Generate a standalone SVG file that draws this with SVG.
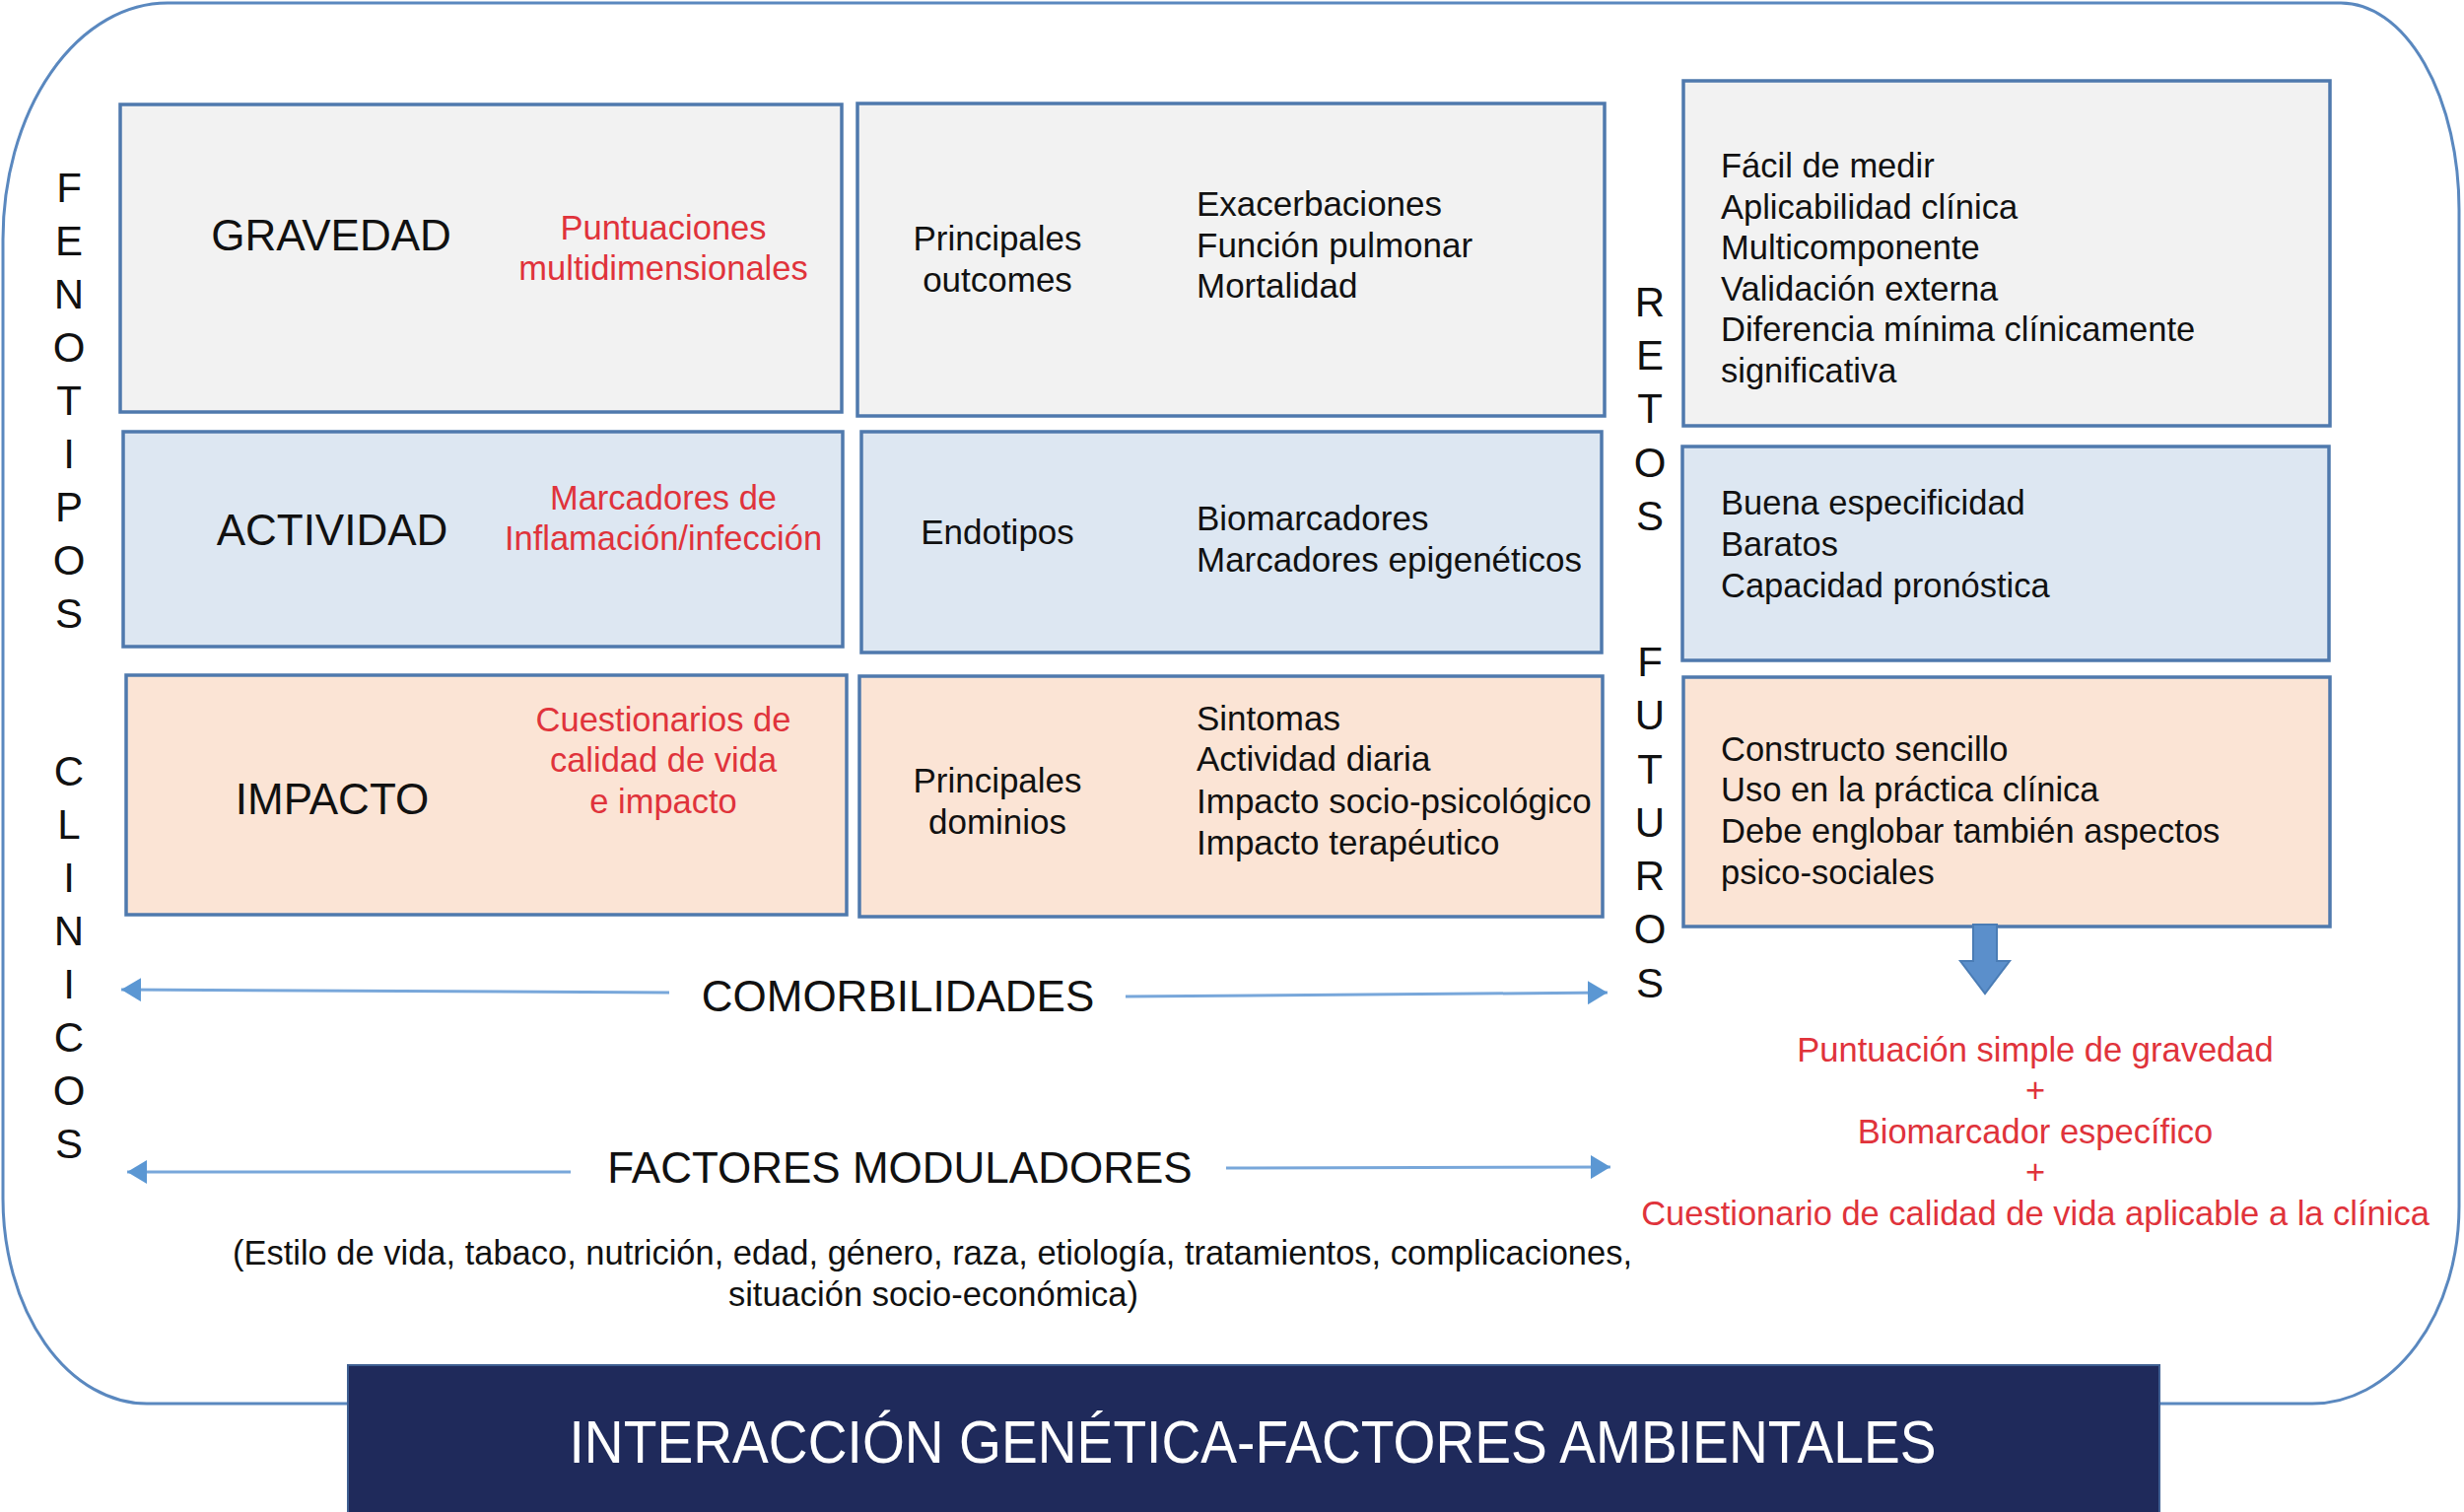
<svg xmlns="http://www.w3.org/2000/svg" width="2500" height="1534" viewBox="0 0 2500 1534">
<style>
text{font-family:"Liberation Sans",Arial,Helvetica,sans-serif;fill:#111}
.box{stroke:#4f79ad;stroke-width:3.5}
.g{fill:#f2f2f2}.b{fill:#dde7f2}.p{fill:#fbe4d5}
.h{font-size:44px;text-anchor:middle}
.r{font-size:34.5px;fill:#e0333b;text-anchor:middle}
.t{font-size:35px}
.c{text-anchor:middle}
.s{font-size:34.5px}
.v{font-size:42px;text-anchor:middle}
.ln{stroke:#78a7da;stroke-width:3;fill:none}
</style>
<defs>
<marker id="ah" markerUnits="userSpaceOnUse" markerWidth="22" markerHeight="24" refX="20" refY="12" orient="auto">
<path d="M0,0 L20,12 L0,24 Z" fill="#5b97d3"/>
</marker>
</defs>
<rect width="2500" height="1534" fill="#ffffff"/>
<g id="frame">
<path d="M170,3 H2375 A120,210 0 0 1 2495,213 V1224 A149,200 0 0 1 2346,1424 H149 A146,208 0 0 1 3,1216 V243 A167,240 0 0 1 170,3 Z" fill="none" stroke="#5a88bf" stroke-width="3"/>
</g>
<g id="label-fenotipos">
<text class="v" x="70" y="205">F</text>
<text class="v" x="70" y="259">E</text>
<text class="v" x="70" y="313">N</text>
<text class="v" x="70" y="367">O</text>
<text class="v" x="70" y="421">T</text>
<text class="v" x="70" y="475">I</text>
<text class="v" x="70" y="529">P</text>
<text class="v" x="70" y="583">O</text>
<text class="v" x="70" y="637">S</text>
<text class="v" x="70" y="797">C</text>
<text class="v" x="70" y="851">L</text>
<text class="v" x="70" y="905">I</text>
<text class="v" x="70" y="959">N</text>
<text class="v" x="70" y="1013">I</text>
<text class="v" x="70" y="1067">C</text>
<text class="v" x="70" y="1121">O</text>
<text class="v" x="70" y="1175">S</text>
</g>
<g id="label-retos">
<text class="v" x="1674" y="321">R</text>
<text class="v" x="1674" y="375">E</text>
<text class="v" x="1674" y="429">T</text>
<text class="v" x="1674" y="484">O</text>
<text class="v" x="1674" y="538">S</text>
<text class="v" x="1674" y="686">F</text>
<text class="v" x="1674" y="740">U</text>
<text class="v" x="1674" y="795">T</text>
<text class="v" x="1674" y="849">U</text>
<text class="v" x="1674" y="903">R</text>
<text class="v" x="1674" y="957">O</text>
<text class="v" x="1674" y="1012">S</text>
</g>
<g id="gravedad">
<rect class="box g" x="122" y="106" width="732" height="312"/>
<text class="h" x="336" y="254">GRAVEDAD</text>
<text class="r" x="673" y="243">Puntuaciones</text>
<text class="r" x="673" y="284">multidimensionales</text>
</g>
<g id="actividad">
<rect class="box b" x="125" y="438" width="730" height="218"/>
<text class="h" x="337" y="553">ACTIVIDAD</text>
<text class="r" x="673" y="517">Marcadores de</text>
<text class="r" x="673" y="558">Inflamación/infección</text>
</g>
<g id="impacto">
<rect class="box p" x="128" y="685" width="731" height="243"/>
<text class="h" x="337" y="826">IMPACTO</text>
<text class="r" x="673" y="742">Cuestionarios de</text>
<text class="r" x="673" y="783">calidad de vida</text>
<text class="r" x="673" y="825">e impacto</text>
</g>
<g id="outcomes">
<rect class="box g" x="870" y="105" width="758" height="317"/>
<text class="t c" x="1012" y="254">Principales</text>
<text class="t c" x="1012" y="296">outcomes</text>
<text class="t" x="1214" y="219">Exacerbaciones</text>
<text class="t" x="1214" y="261">Función pulmonar</text>
<text class="t" x="1214" y="302">Mortalidad</text>
</g>
<g id="endotipos">
<rect class="box b" x="874" y="438" width="751" height="224"/>
<text class="t c" x="1012" y="552">Endotipos</text>
<text class="t" x="1214" y="538">Biomarcadores</text>
<text class="t" x="1214" y="580">Marcadores epigenéticos</text>
</g>
<g id="dominios">
<rect class="box p" x="872" y="686" width="754" height="244"/>
<text class="t c" x="1012" y="804">Principales</text>
<text class="t c" x="1012" y="846">dominios</text>
<text class="t" x="1214" y="741">Sintomas</text>
<text class="t" x="1214" y="782">Actividad diaria</text>
<text class="t" x="1214" y="825">Impacto socio-psicológico</text>
<text class="t" x="1214" y="867">Impacto terapéutico</text>
</g>
<g id="retos-gravedad">
<rect class="box g" x="1708" y="82" width="656" height="350"/>
<text class="s" x="1746" y="180">Fácil de medir</text>
<text class="s" x="1746" y="221.5">Aplicabilidad clínica</text>
<text class="s" x="1746" y="263">Multicomponente</text>
<text class="s" x="1746" y="304.5">Validación externa</text>
<text class="s" x="1746" y="346">Diferencia mínima clínicamente</text>
<text class="s" x="1746" y="387.5">significativa</text>
</g>
<g id="retos-actividad">
<rect class="box b" x="1707" y="453" width="656" height="217"/>
<text class="s" x="1746" y="522">Buena especificidad</text>
<text class="s" x="1746" y="564">Baratos</text>
<text class="s" x="1746" y="606">Capacidad pronóstica</text>
</g>
<g id="retos-impacto">
<rect class="box p" x="1708" y="687" width="656" height="253"/>
<text class="s" x="1746" y="772">Constructo sencillo</text>
<text class="s" x="1746" y="813">Uso en la práctica clínica</text>
<text class="s" x="1746" y="855">Debe englobar también aspectos</text>
<text class="s" x="1746" y="897">psico-sociales</text>
</g>
<g id="comorbilidades">
<text class="h" x="911" y="1026">COMORBILIDADES</text>
</g>
<g id="factores">
<text class="h" x="913" y="1200">FACTORES MODULADORES</text>
<text class="s c" x="946" y="1283" textLength="1420" lengthAdjust="spacingAndGlyphs">(Estilo de vida, tabaco, nutrición, edad, género, raza, etiología, tratamientos, complicaciones,</text>
<text class="s c" x="947" y="1325">situación socio-económica)</text>
</g>
<g id="resultado">
<text class="r" x="2065" y="1077">Puntuación simple de gravedad</text>
<text class="r" x="2065" y="1118">+</text>
<text class="r" x="2065" y="1160">Biomarcador específico</text>
<text class="r" x="2065" y="1201">+</text>
<text class="r" x="2065" y="1243">Cuestionario de calidad de vida aplicable a la clínica</text>
</g>
<g id="interaccion">
<rect x="353" y="1385" width="1838" height="152" fill="#1f2a5b" stroke="#3f5f92" stroke-width="2"/>
<text x="1271" y="1484" font-size="61" text-anchor="middle" textLength="1387" lengthAdjust="spacingAndGlyphs" style="fill:#ffffff">INTERACCIÓN GENÉTICA-FACTORES AMBIENTALES</text>
</g>
<g id="connectors">
<path class="ln" d="M679,1007 L123,1004" marker-end="url(#ah)"/>
<path class="ln" d="M1142,1011 L1631,1007" marker-end="url(#ah)"/>
<path class="ln" d="M579,1189 L129,1189" marker-end="url(#ah)"/>
<path class="ln" d="M1244,1185 L1634,1184" marker-end="url(#ah)"/>
<path d="M2002,938 H2026 V975 H2039 L2014,1008 L1989,975 H2002 Z" fill="#5b8fcb" stroke="#4a7cb5" stroke-width="2"/>
</g>
</svg>
